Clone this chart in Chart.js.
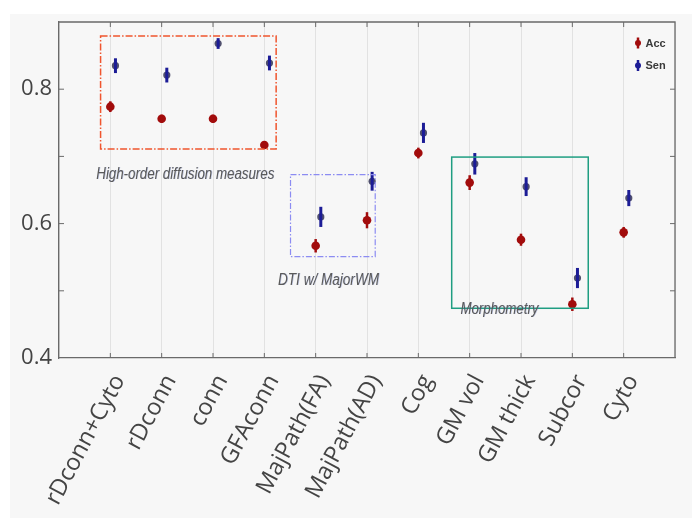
<!DOCTYPE html>
<html><head><meta charset="utf-8">
<script src="https://cdn.jsdelivr.net/npm/chart.js@4/dist/chart.umd.min.js"></script>
<style>html,body{margin:0;padding:0;background:#fff}#wrap{width:692px;height:518px;position:relative}</style>
</head><body><div id="wrap"><canvas id="c" width="692" height="518"></canvas></div>
<script>
// ---- data ----
const categories = ['rDconn+Cyto','rDconn','conn','GFAconn','MajPath(FA)','MajPath(AD)','Cog','GM vol','GM thick','Subcor','Cyto'];
const accValues = [0.774,0.756,0.756,0.717,0.567,0.605,0.705,0.661,0.576,0.480,0.587];
const accErrors = [0.008,0.006,0.006,0.005,0.010,0.012,0.008,0.011,0.009,0.010,0.008];
const senValues = [0.835,0.821,0.868,0.839,0.610,0.663,0.735,0.689,0.655,0.519,0.638];
const senErrors = [0.011,0.011,0.008,0.011,0.015,0.014,0.015,0.016,0.014,0.015,0.012];
const seriesNames = ['Acc','Sen'];
const yTickLabels = ['0.4','0.6','0.8'];
const groupNames = ['High-order diffusion measures','DTI w/ MajorWM','Morphometry'];

// ---- layout / style of group annotations (data-space) ----
const groupBoxes = [
  {x0:0.81, x1:4.23, y0:0.711, y1:0.879, color:'#f0552e', dash:[7,2,1.5,2], lw:1.5, tx:2.46, ty:0.667, tw:178},
  {x0:4.51, x1:6.16, y0:0.551, y1:0.673, color:'#8c8cf2', dash:[6,2,1.5,2], lw:1.2, tx:5.25, ty:0.509, tw:101},
  {x0:7.65, x1:10.31, y0:0.474, y1:0.699, color:'#1f9e82', dash:[], lw:1.5, tx:8.58, ty:0.4655, tw:78}
];

const senOffset = 0.1;
const accColor = '#a20c0c', senBar = '#1c1c96', senDot = '#50506e';

const errPlugin = {
  id:'errbars',
  afterDatasetsDraw(chart){
    const ctx = chart.ctx, xs = chart.scales.x, ys = chart.scales.y;
    chart.data.datasets.forEach((ds) => {
      ctx.save();
      ctx.strokeStyle = ds.barColor; ctx.lineWidth = ds.barWidth; ctx.lineCap='butt';
      ds.data.forEach((p,i) => {
        const e = ds.errors[i];
        const px = xs.getPixelForValue(p.x);
        ctx.beginPath();
        ctx.moveTo(px, ys.getPixelForValue(p.y - e));
        ctx.lineTo(px, ys.getPixelForValue(p.y + e));
        ctx.stroke();
      });
      ctx.restore();
    });
  }
};

const framePlugin = {
  id:'frame',
  beforeDraw(chart){
    const ctx = chart.ctx;
    ctx.save();
    ctx.fillStyle='#ffffff'; ctx.fillRect(0,0,chart.width,chart.height);
    ctx.fillStyle='#f7f7f7'; ctx.fillRect(10,14,chart.width-10,chart.height-14);
    ctx.restore();
  },
  afterDraw(chart){
    const ctx = chart.ctx, a = chart.chartArea, xs = chart.scales.x, ys = chart.scales.y;
    ctx.save();
    ctx.strokeStyle='#6a6a6a'; ctx.lineWidth=1.3;
    ctx.beginPath();
    ctx.moveTo(a.left,a.top); ctx.lineTo(a.right,a.top); ctx.lineTo(a.right,a.bottom);
    ctx.stroke();
    // inner ticks
    ctx.lineWidth=1;
    for (let v=1; v<=11; v++){
      const px = xs.getPixelForValue(v);
      ctx.beginPath(); ctx.moveTo(px,a.top); ctx.lineTo(px,a.top+5); ctx.stroke();
      ctx.beginPath(); ctx.moveTo(px,a.bottom); ctx.lineTo(px,a.bottom-5); ctx.stroke();
    }
    for (let k=5; k<=8; k++){
      const py = ys.getPixelForValue(k/10);
      ctx.beginPath(); ctx.moveTo(a.left,py); ctx.lineTo(a.left+5,py); ctx.stroke();
      ctx.beginPath(); ctx.moveTo(a.right,py); ctx.lineTo(a.right-5,py); ctx.stroke();
    }
    // group boxes
    groupBoxes.forEach((g,i) => {
      ctx.save();
      ctx.strokeStyle=g.color; ctx.lineWidth=g.lw; ctx.setLineDash(g.dash);
      const x0=xs.getPixelForValue(g.x0), x1=xs.getPixelForValue(g.x1);
      const y0=ys.getPixelForValue(g.y0), y1=ys.getPixelForValue(g.y1);
      ctx.strokeRect(x0,y1,x1-x0,y0-y1);
      ctx.setLineDash([]);
      ctx.font='italic 16px "Liberation Sans", Arial, sans-serif';
      const w = ctx.measureText(groupNames[i]).width;
      const sx = g.tw / w;
      const cx = xs.getPixelForValue(g.tx), by = ys.getPixelForValue(g.ty);
      ctx.translate(cx - g.tw/2, by);
      ctx.scale(sx,1);
      ctx.fillStyle='rgba(90,110,190,0.35)';
      ctx.textBaseline='alphabetic'; ctx.textAlign='left';
      ctx.fillText(groupNames[i], 0.8, 0);
      ctx.fillStyle='#5a5a5a';
      ctx.fillText(groupNames[i], 0, 0);
      ctx.restore();
    });
    // legend
    chart.data.datasets.forEach((ds,i) => {
      const ix = 638, iy = 43 + i*22.5;
      ctx.save();
      ctx.strokeStyle = ds.barColor; ctx.lineWidth = 2.5;
      ctx.beginPath(); ctx.moveTo(ix, iy-5.5); ctx.lineTo(ix, iy+5.5); ctx.stroke();
      ctx.fillStyle = ds.legendDot;
      ctx.beginPath(); ctx.arc(ix, iy, 3, 0, Math.PI*2); ctx.fill();
      ctx.fillStyle='#3a3a3a';
      ctx.font='bold 11px "Liberation Sans", Arial, sans-serif';
      ctx.textBaseline='middle'; ctx.textAlign='left';
      ctx.fillText(ds.label, 645.5, iy+0.5);
      ctx.restore();
    });
    ctx.restore();
  }
};

const chart = new Chart(document.getElementById('c'), {
  type:'scatter',
  data:{
    datasets:[
      {label:seriesNames[0], data:accValues.map((v,i)=>({x:i+1,y:v})), errors:accErrors,
       backgroundColor:accColor, borderColor:accColor, pointRadius:4.3, pointBorderWidth:0,
       barColor:accColor, barWidth:2.5, legendDot:accColor},
      {label:seriesNames[1], data:senValues.map((v,i)=>({x:i+1+senOffset,y:v})), errors:senErrors,
       backgroundColor:senDot, borderColor:senDot, pointRadius:3.6, pointBorderWidth:0,
       barColor:senBar, barWidth:3, legendDot:senBar}
    ]
  },
  options:{
    responsive:false, animation:false, devicePixelRatio:1,
    layout:{padding:{top:22,right:17,left:0,bottom:0}},
    plugins:{legend:{display:false}, tooltip:{enabled:false}},
    scales:{
      x:{type:'linear', min:0, max:12,
        ticks:{stepSize:1, autoSkip:false, maxRotation:62, minRotation:62, padding:12, labelOffset:9,
          color:'#444', font:{family:'"Open Sans", "Noto Sans", sans-serif', size:23.5},
          callback:(v)=> (v>=1 && v<=categories.length) ? categories[v-1] : ''},
        grid:{color:'#e2e2e2', lineWidth:1, drawTicks:false},
        border:{color:'#6a6a6a', width:1.3},
        afterFit:(s)=>{ s.height = 160; s.paddingLeft = 0; s.paddingRight = 0; }
      },
      y:{min:0.4, max:0.9,
        ticks:{stepSize:0.1, padding:7, color:'#444',
          font:{family:'"Open Sans", "Noto Sans", sans-serif', size:22},
          callback:(v)=>{ const s = Number(v).toFixed(1); return yTickLabels.includes(s) ? s : ''; }},
        grid:{drawOnChartArea:false, drawTicks:false},
        border:{color:'#6a6a6a', width:1.3},
        afterFit:(s)=>{ s.width = 59; }
      }
    }
  },
  plugins:[framePlugin, errPlugin]
});
</script>
</body></html>
